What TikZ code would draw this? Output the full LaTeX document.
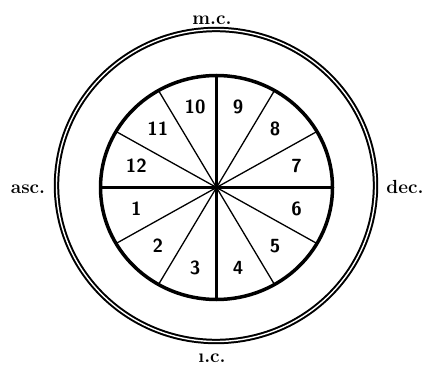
\documentclass[tikz,border=0pt]{standalone}
\usetikzlibrary{calc}
\begin{document}
\begin{tikzpicture}[x=1pt,y=1pt,
  spoke/.style={line width=1.3pt,black},
  axis/.style={line width=2.1pt,black},
  num/.style={font=\fontsize{19}{19}\selectfont\sffamily\bfseries},
  pointlbl/.style={font=\fontsize{19}{19}\selectfont\bfseries}]
\useasboundingbox (0,0) rectangle (425,367);
\coordinate (c) at (216.5,179.5);
\coordinate (co) at (216,181.5);
% outer double ring
\draw[line width=2pt,double=white,double distance=1.4pt] (co) ellipse [x radius=159.5, y radius=156];
% spokes
\foreach \a in {30,60,120,150,210,240,300,330}
  \draw[spoke] (c) -- ++(\a:116.5 and 112.5);
\foreach \a in {0,90,180,270}
  \draw[axis] (c) -- ++(\a:116.5 and 112.5);
% inner ring
\draw[line width=3.5pt] (c) ellipse [x radius=116, y radius=112];
\fill (c) circle (2.8);
% house numbers
\foreach \n in {1,...,12}{
  \pgfmathsetmacro{\ang}{15+30*(\n-7)}
  \node[num] (h\n) at ($(c)+(\ang:83)$) {\n};
}
% angle labels
\node[pointlbl] (mc) at (212,347) {m.c.};
\node[pointlbl] (ic) at (212,9) {\i.c.};
\node[pointlbl] (asc) at (28,178) {asc.};
\node[pointlbl] (dec) at (405,180) {dec.};
\end{tikzpicture}
\end{document}
